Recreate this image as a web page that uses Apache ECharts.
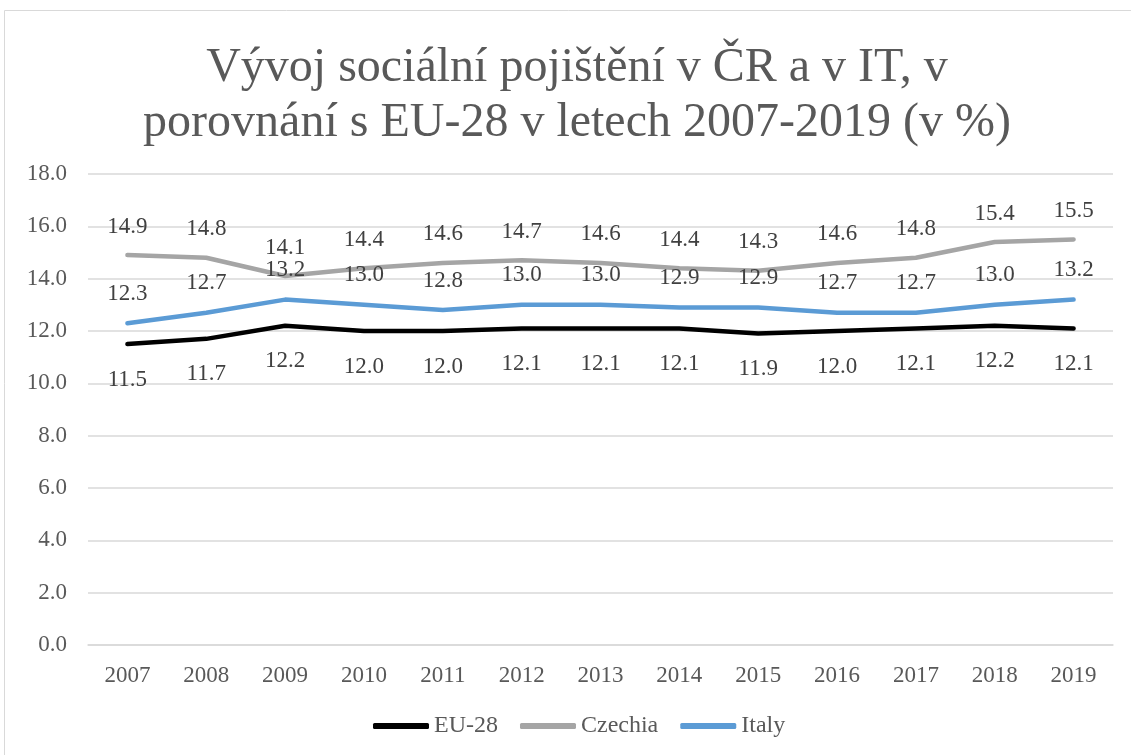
<!DOCTYPE html>
<html>
<head>
<meta charset="utf-8">
<script src="https://cdn.jsdelivr.net/npm/echarts@6/dist/echarts.min.js"></script>
<style>
  html, body { margin: 0; padding: 0; background: #fff; }
  #chart { width: 1131px; height: 755px; }
</style>
</head>
<body>
<div id="chart"></div>
<script>
const years = ['2007', '2008', '2009', '2010', '2011', '2012', '2013', '2014', '2015', '2016', '2017', '2018', '2019'];
const eu28 = [11.5, 11.7, 12.2, 12.0, 12.0, 12.1, 12.1, 12.1, 11.9, 12.0, 12.1, 12.2, 12.1];
const czechia = [14.9, 14.8, 14.1, 14.4, 14.6, 14.7, 14.6, 14.4, 14.3, 14.6, 14.8, 15.4, 15.5];
const italy = [12.3, 12.7, 13.2, 13.0, 12.8, 13.0, 13.0, 12.9, 12.9, 12.7, 12.7, 13.0, 13.2];

const font = 'Liberation Serif';
const chart = echarts.init(document.getElementById('chart'));

function lineSeries(name, data, color, pos, dist) {
    return {
        name: name,
        type: 'line',
        data: data,
        symbol: 'circle',
        symbolSize: 0.1,
        itemStyle: { color: color },
        lineStyle: { color: color, width: 4.5, cap: 'round', join: 'round' },
        label: {
            show: true,
            position: pos,
            distance: dist,
            color: '#404040',
            fontFamily: font,
            fontSize: 23,
            formatter: p => p.value.toFixed(1)
        }
    };
}

const option = {
    animation: false,
    graphic: [{
        type: 'rect',
        shape: { x: 4.5, y: 10.5, width: 1200, height: 800 },
        style: { fill: 'none', stroke: '#d9d9d9', lineWidth: 1 },
        silent: true
    }],
    title: {
        text: 'Vývoj sociální pojištění v ČR a v IT, v\nporovnání s EU-28 v letech 2007-2019 (v %)',
        left: 572,
        top: 36,
        textAlign: 'center',
        textStyle: {
            fontFamily: font,
            fontSize: 48,
            fontWeight: 'normal',
            lineHeight: 55,
            color: '#595959'
        }
    },
    legend: {
        top: 709,
        left: 368,
        icon: 'roundRect',
        itemWidth: 56,
        itemHeight: 6,
        itemGap: 22,
        textStyle: { fontFamily: font, fontSize: 24, color: '#595959' },
        data: ['EU-28', 'Czechia', 'Italy']
    },
    grid: { left: 88, right: 18, top: 174, bottom: 110 },
    xAxis: {
        type: 'category',
        data: years,
        axisTick: { show: false },
        axisLine: { lineStyle: { color: '#d9d9d9', width: 1.5 } },
        axisLabel: { fontFamily: font, fontSize: 23, color: '#595959', margin: 19 }
    },
    yAxis: {
        type: 'value',
        min: 0,
        max: 18,
        interval: 2,
        axisLine: { show: false },
        axisTick: { show: false },
        splitLine: { lineStyle: { color: '#d9d9d9', width: 1.5 } },
        axisLabel: {
            fontFamily: font,
            fontSize: 23,
            color: '#595959',
            margin: 21,
            formatter: v => v.toFixed(1)
        }
    },
    series: [
        lineSeries('EU-28', eu28, '#000000', 'bottom', 24),
        lineSeries('Czechia', czechia, '#A5A5A5', 'top', 17),
        lineSeries('Italy', italy, '#5B9BD5', 'top', 18)
    ]
};

chart.setOption(option);
window.addEventListener('resize', () => chart.resize());
</script>
</body>
</html>
